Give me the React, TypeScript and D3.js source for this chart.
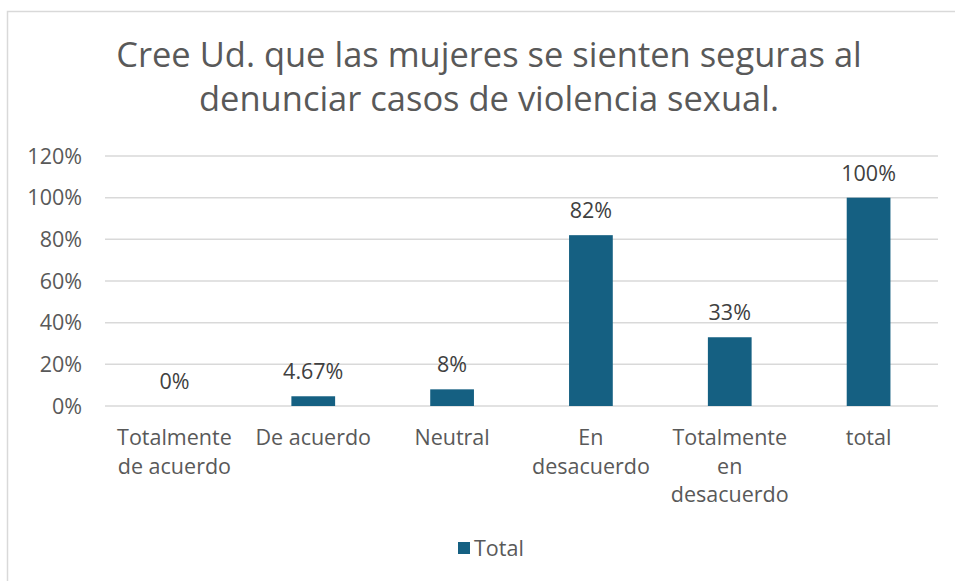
import React from "react";
import * as d3 from "d3";

const categories: string[][] = [
  ["Totalmente", "de acuerdo"],
  ["De acuerdo"],
  ["Neutral"],
  ["En", "desacuerdo"],
  ["Totalmente", "en", "desacuerdo"],
  ["total"],
];
const values: number[] = [0, 0.0467, 0.08, 0.82, 0.33, 1.0];
const dataLabels: string[] = ["0%", "4.67%", "8%", "82%", "33%", "100%"];
const yTicks: number[] = [0, 0.2, 0.4, 0.6, 0.8, 1.0, 1.2];
const titleLines: string[] = [
  "Cree Ud. que las mujeres se sienten seguras al",
  "denunciar casos de violencia sexual.",
];
const seriesName = "Total";

const W = 955;
const H = 581;
const BAR = "#156082";
const FONT = "'Open Sans', 'Noto Sans', sans-serif";

function fitSize(text: string, target: number, base: number): number {
  try {
    const c = document.createElement("canvas").getContext("2d");
    if (!c) return base;
    c.font = `${base}px 'Open Sans'`;
    const w = c.measureText(text).width;
    if (!w) return base;
    return Math.max(base * 0.8, Math.min(base * 1.2, (base * target) / w));
  } catch (e) {
    return base;
  }
}

export default function App() {
  const left = 105;
  const right = 938;
  const top = 156;
  const bottom = 406;
  const x = d3
    .scaleBand<number>()
    .domain(categories.map((_, i) => i))
    .range([left, right])
    .paddingInner(0.685)
    .paddingOuter(0.3425);
  const y = d3.scaleLinear().domain([0, 1.2]).range([bottom, top]);
  const fmt = d3.format(".0%");
  const titleSize = fitSize(titleLines[0], 746, 32);
  const fs = 21.5;

  return (
    <svg
      width={W}
      height={H}
      style={{ position: "absolute", left: 0, top: 0, background: "#fff" }}
    >
      <rect x={0} y={0} width={W} height={H} fill="#fff" />
      <path d={`M7.5,${H} V11.5 H${W}`} fill="none" stroke="#d9d9d9" strokeWidth={1.5} />
      {titleLines.map((t, i) => (
        <text
          key={i}
          x={489}
          y={67 + i * 44}
          textAnchor="middle"
          fontFamily={FONT}
          fontSize={titleSize}
          fill="#595959"
        >
          {t}
        </text>
      ))}
      {yTicks.map((t) => (
        <g key={t}>
          <line x1={left} x2={right} y1={y(t)} y2={y(t)} stroke="#d9d9d9" strokeWidth={1.5} />
          <text
            x={82}
            y={y(t) + 7.5}
            textAnchor="end"
            fontFamily={FONT}
            fontSize={fs}
            fill="#595959"
          >
            {fmt(t)}
          </text>
        </g>
      ))}
      {values.map((v, i) => (
        <g key={i}>
          <rect
            x={x(i)}
            y={y(v)}
            width={x.bandwidth()}
            height={bottom - y(v)}
            fill={BAR}
          />
          <text
            x={(x(i) as number) + x.bandwidth() / 2}
            y={y(v) - 17}
            textAnchor="middle"
            fontFamily={FONT}
            fontSize={fs}
            fill="#404040"
          >
            {dataLabels[i]}
          </text>
          {categories[i].map((ln, j) => (
            <text
              key={j}
              x={(x(i) as number) + x.bandwidth() / 2}
              y={445 + j * 28.5}
              textAnchor="middle"
              fontFamily={FONT}
              fontSize={fs}
              fill="#595959"
            >
              {ln}
            </text>
          ))}
        </g>
      ))}
      <rect x={458} y={542} width={12} height={12} fill={BAR} />
      <text x={474} y={556} fontFamily={FONT} fontSize={fs} fill="#595959">
        {seriesName}
      </text>
    </svg>
  );
}
